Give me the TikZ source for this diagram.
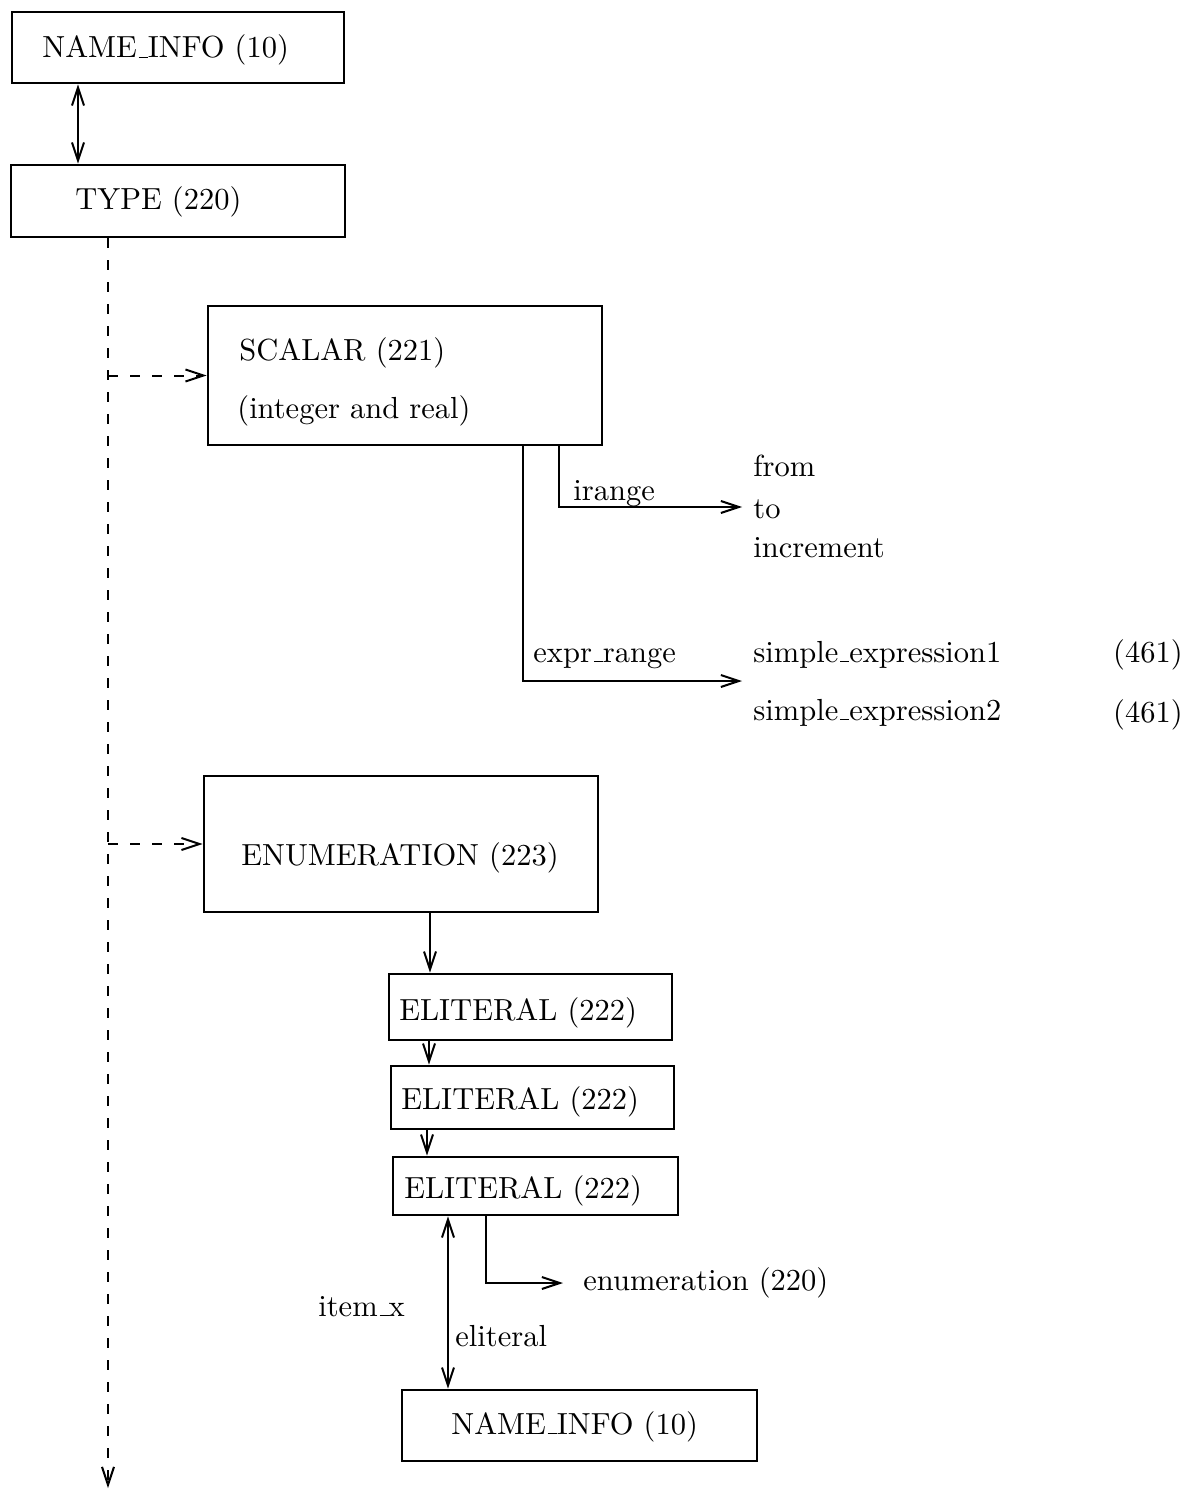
\documentclass[tikz,border=0pt]{standalone}
\usepackage{graphicx}
\usetikzlibrary{arrows.meta}
% captions are set in 10pt type and enlarged, with the classic rule underscore
\newcommand\usc{\leavevmode\kern.06em\vbox{\hrule width.3em}}
\newcommand\lbl[1]{\scalebox{1.525}{#1}}
\begin{document}
\begin{tikzpicture}[x=0.5pt,y=-0.5pt,
  box/.style={draw, line width=1.35pt, inner sep=0pt},
  txt/.style={anchor=base west, inner sep=0pt, font=\fontsize{10}{12}\selectfont},
  txtr/.style={txt, anchor=base east},
  barb/.tip={Straight Barb[length=9pt,width=6pt]},
  link/.style={line width=1pt, -barb},
  dlink/.style={line width=1pt, barb-barb},
  dashlink/.style={link, dash pattern=on 5pt off 6pt},
]
\useasboundingbox (0,0) rectangle (1190,1492);

% boxes
\node[box, minimum width=166pt,   minimum height=35.5pt] (ni1)    at (178,47.5)    {};
\node[box, minimum width=167pt,   minimum height=36pt]   (type)   at (178,201)     {};
\node[box, minimum width=197pt,   minimum height=69.5pt] (scalar) at (405,375.5)   {};
\node[box, minimum width=197pt,   minimum height=68pt]   (enum)   at (401,844)     {};
\node[box, minimum width=141.5pt, minimum height=33pt]   (el1)    at (530.5,1007)  {};
\node[box, minimum width=141.5pt, minimum height=31.5pt] (el2)    at (532.5,1097.5){};
\node[box, minimum width=142.5pt, minimum height=29pt]   (el3)    at (535.5,1186)  {};
\node[box, minimum width=177.5pt, minimum height=35.5pt] (ni2)    at (579.5,1425.5){};

% box captions
\node[txt] (tni1)  at (42,58)    {\lbl{NAME\usc INFO (10)}};
\node[txt] (ttype) at (75,210)   {\lbl{TYPE (220)}};
\node[txt] (tsc)   at (239,360)  {\lbl{SCALAR (221)}};
\node[txt] (tsc2)  at (237,418)  {\lbl{(integer and real)}};
\node[txt] (tenum) at (241,865)  {\lbl{ENUMERATION (223)}};
\node[txt] (tel1)  at (399,1020) {\lbl{ELITERAL (222)}};
\node[txt] (tel2)  at (401,1109) {\lbl{ELITERAL (222)}};
\node[txt] (tel3)  at (404,1198) {\lbl{ELITERAL (222)}};
\node[txt] (tni2)  at (451,1434) {\lbl{NAME\usc INFO (10)}};

% field names and targets
\node[txt]  (lir)   at (573,500)  {\lbl{irange}};
\node[txt]  (lfrom) at (753,476)  {\lbl{from}};
\node[txt]  (lto)   at (753,518)  {\lbl{to}};
\node[txt]  (linc)  at (753,557)  {\lbl{increment}};
\node[txt]  (lex)   at (533,662)  {\lbl{expr\usc range}};
\node[txt]  (lse1)  at (753,662)  {\lbl{simple\usc expression1}};
\node[txtr] (lse1n) at (1183,662) {\lbl{(461)}};
\node[txt]  (lse2)  at (753,720)  {\lbl{simple\usc expression2}};
\node[txtr] (lse2n) at (1183,722) {\lbl{(461)}};
\node[txt]  (lenu)  at (583,1290) {\lbl{enumeration (220)}};
\node[txt]  (litx)  at (318,1316) {\lbl{item\usc x}};
\node[txt]  (lelit) at (455,1346) {\lbl{eliteral}};

% connector columns and free ends
\coordinate (xa)   at (78,0);
\coordinate (xd)   at (108,0);
\coordinate (xi)   at (559,0);
\coordinate (xe)   at (523,0);
\coordinate (xen)  at (430,0);
\coordinate (xl1)  at (429,0);
\coordinate (xl2)  at (427,0);
\coordinate (xn)   at (448,0);
\coordinate (xr)   at (486,0);
\coordinate (tir)  at (742,507);
\coordinate (tex)  at (742,681);
\coordinate (ten)  at (563,1283);
\coordinate (dend) at (108,1488);

% connectors
\draw[dlink] (ni1.south -| xa) -- (type.north -| xa);
\draw[dashlink] (type.south -| xd) -- (dend);
\draw[dashlink] (scalar.west -| xd) -- (scalar.west);
\draw[dashlink] (enum.west -| xd) -- (enum.west);
\draw[link] (scalar.south -| xi) |- (tir);
\draw[link] (scalar.south -| xe) |- (tex);
\draw[link] (enum.south -| xen) -- (el1.north -| xen);
\draw[link] (el1.south -| xl1) -- (el2.north -| xl1);
\draw[link] (el2.south -| xl2) -- (el3.north -| xl2);
\draw[dlink] (el3.south -| xn) -- (ni2.north -| xn);
\draw[link] (el3.south -| xr) |- (ten);
\end{tikzpicture}
\end{document}
